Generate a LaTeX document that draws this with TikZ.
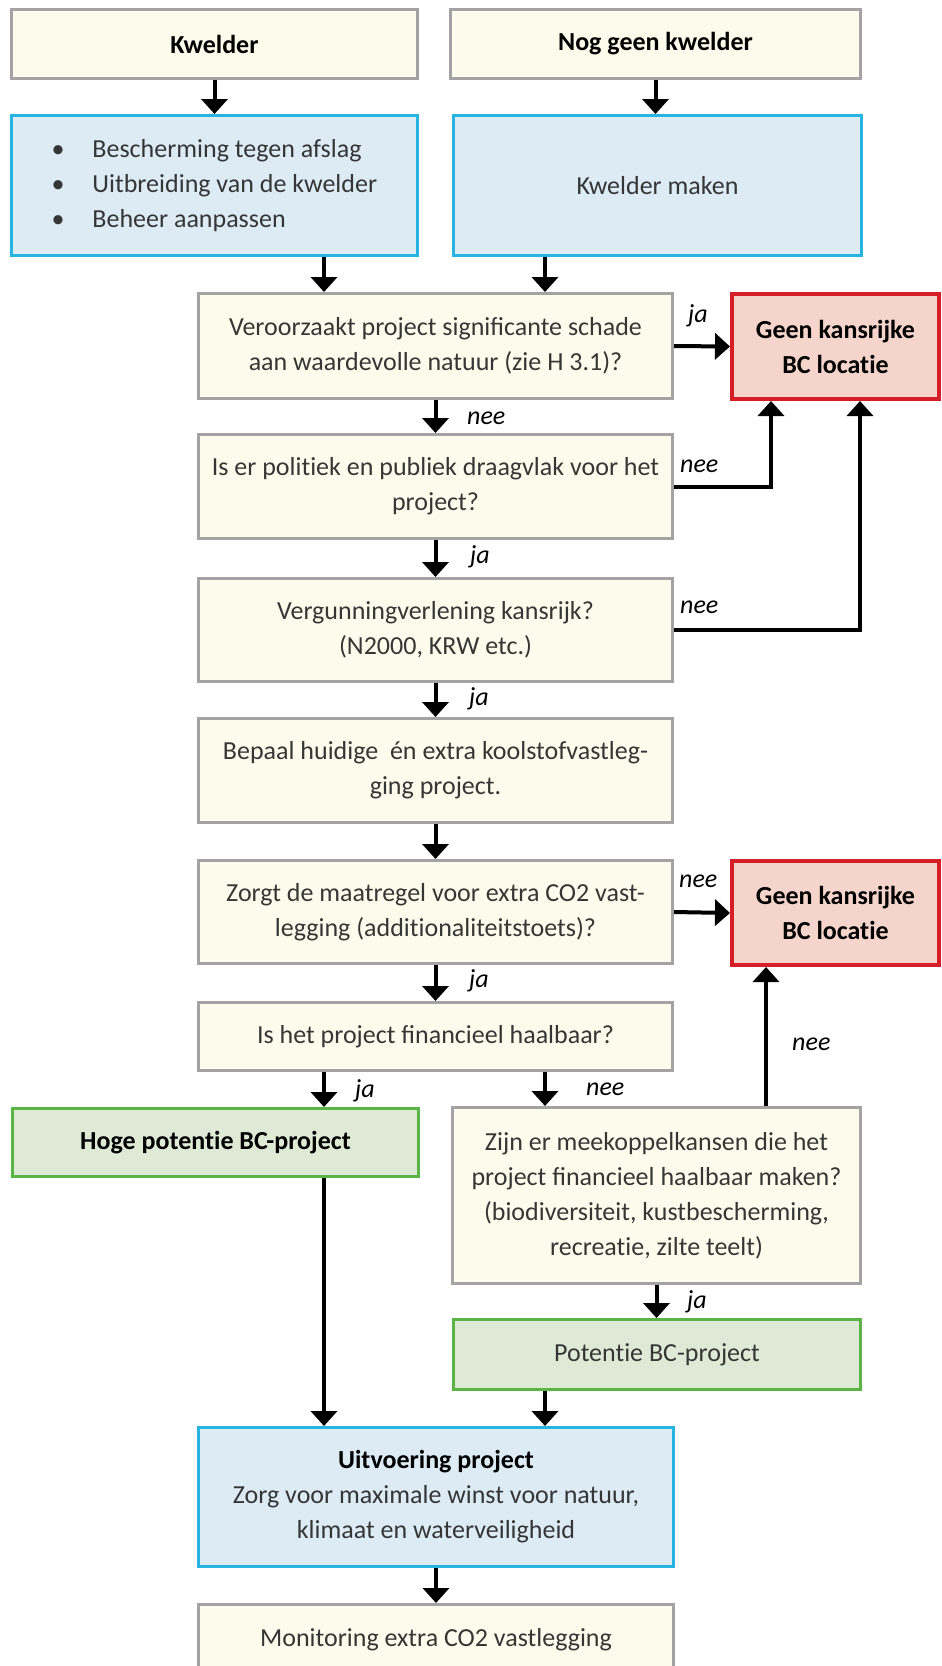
\documentclass[tikz,border=0pt]{standalone}
\usepackage{fontspec}
\setmainfont{Carlito}
\usetikzlibrary{arrows.meta,calc}
\definecolor{creamfill}{HTML}{FDFBEC}
\definecolor{creamline}{HTML}{A3A3A3}
\definecolor{bluefill}{HTML}{DDEBF5}
\definecolor{blueline}{HTML}{28B4E1}
\definecolor{redfill}{HTML}{F5D5CB}
\definecolor{redline}{HTML}{D61E28}
\definecolor{greenfill}{HTML}{DEEAD6}
\definecolor{greenline}{HTML}{5AB446}
\definecolor{txt}{HTML}{363636}
\newcommand\Ti{t\kern0pt{}i}
\begin{document}
\begin{tikzpicture}[x=1pt,y=-1pt,
  box/.style={rectangle, line width=3pt, inner sep=0pt, anchor=north west,
    font=\fontsize{26}{35}\selectfont, text=txt, align=center},
  cream/.style={box, fill=creamfill, draw=creamline},
  bluebox/.style={box, fill=bluefill, draw=blueline},
  redbox/.style={box, fill=redfill, draw=redline, line width=4pt, text=black, font=\fontsize{26}{35}\selectfont\bfseries},
  greenbox/.style={box, fill=greenfill, draw=greenline},
  arr/.style={line width=4pt, -{Triangle[length=15pt,width=26pt]}},
  lbl/.style={font=\fontsize{26}{30}\selectfont\itshape, inner sep=0pt, anchor=base west, text=black}]
\useasboundingbox (0,0) rectangle (942,1666);
\clip (0,0) rectangle (942,1666);
\fill[white] (0,0) rectangle (942,1666);

\coordinate (xL) at (324,0);
\coordinate (xR) at (545,0);
\coordinate (xP1) at (771,0);
\coordinate (xP2) at (860,0);
\coordinate (xZ) at (766,0);

\node[cream, minimum width=406pt, minimum height=69pt, text=black, font=\fontsize{26}{35}\selectfont\bfseries] (kw) at (10,8) {Kwelder};
\node[cream, minimum width=410pt, minimum height=69pt, text=black, font=\fontsize{26}{35}\selectfont\bfseries] (ngk) at (449,8) {Nog geen kwelder};
\node[bluebox, minimum width=406pt, minimum height=140pt, align=left, text width=380pt, inner xsep=13pt] (blueL) at (10,114)
  {\spaceskip=0pt\xspaceskip=0pt
   \hspace*{27pt}\makebox[41pt][l]{\textbullet}Bescherming tegen afslag\\
   \hspace*{27pt}\makebox[41pt][l]{\textbullet}Uitbreiding van de kwelder\\
   \hspace*{27pt}\makebox[41pt][l]{\textbullet}Beheer aanpassen};
\node[bluebox, minimum width=408pt, minimum height=140pt] (blueR) at (452,114) {Kwelder maken};

\node[cream, minimum width=474pt, minimum height=105pt] (ver) at (197,292) {Veroorzaakt project significante schade\\aan waardevolle natuur (zie H 3.1)?};
\node[redbox, minimum width=207pt, minimum height=105pt] (red1) at (730,292) {Geen kansrijke\\BC loca\Ti e};
\node[cream, minimum width=474pt, minimum height=104pt] (pol) at (197,433) {Is er poli\Ti ek en publiek draagvlak voor het\\project?};
\node[cream, minimum width=474pt, minimum height=103pt] (verg) at (197,577) {Vergunningverlening kansrijk?\\(N2000, KRW etc.)};
\node[cream, minimum width=474pt, minimum height=104pt] (bep) at (197,717) {Bepaal huidige~ én extra koolstofvastleg-\\ging project.};
\node[cream, minimum width=474pt, minimum height=103pt] (zorg) at (197,859) {Zorgt de maatregel voor extra CO2 vast-\\legging (addi\Ti onaliteitstoets)?};
\node[redbox, minimum width=207pt, minimum height=104pt] (red2) at (730,859) {Geen kansrijke\\BC loca\Ti e};
\node[cream, minimum width=474pt, minimum height=68pt] (ishet) at (197,1001) {Is het project financieel haalbaar?};
\node[greenbox, minimum width=406pt, minimum height=68pt, text=black, font=\fontsize{26}{35}\selectfont\bfseries] (hoge) at (11,1107) {Hoge poten\Ti e BC-project};
\node[cream, minimum width=408pt, minimum height=176pt] (zijn) at (451,1106) {Zijn er meekoppelkansen die het\\project financieel haalbaar maken?\\(biodiversiteit, kustbescherming,\\recrea\Ti e, zilte teelt)};
\node[greenbox, minimum width=407pt, minimum height=70pt] (pot) at (452,1318) {Poten\Ti e BC-project};
\node[bluebox, minimum width=475pt, minimum height=139pt] (uit) at (197,1426) {{\color{black}\bfseries Uitvoering project}\\Zorg voor maximale winst voor natuur,\\klimaat en waterveiligheid};
\node[cream, minimum width=475pt, minimum height=70pt] (mon) at (197,1603) {Monitoring extra CO2 vastlegging};

\draw[arr] (kw.south) -- (blueL.north);
\draw[arr] (ngk.south) -- (ngk.south |- blueR.north);
\draw[arr] (blueL.south -| xL) -- (ver.north -| xL);
\draw[arr] (blueR.south -| xR) -- (ver.north -| xR);
\draw[arr] (ver.east) -- (red1.west);
\draw[arr] (ver.south) -- (pol.north);
\draw[arr] (pol.east) -| (red1.south -| xP1);
\draw[arr] (pol.south) -- (verg.north);
\draw[arr] (verg.east) -| (red1.south -| xP2);
\draw[arr] (verg.south) -- (bep.north);
\draw[arr] (bep.south) -- (zorg.north);
\draw[arr] (zorg.east) -- (red2.west);
\draw[arr] (zorg.south) -- (ishet.north);
\draw[arr] (ishet.south -| xL) -- (hoge.north -| xL);
\draw[arr] (ishet.south -| xR) -- (zijn.north -| xR);
\draw[arr] (zijn.north -| xZ) -- (red2.south -| xZ);
\draw[arr] (zijn.south) -- (zijn.south |- pot.north);
\draw[arr] (hoge.south -| xL) -- (uit.north -| xL);
\draw[arr] (pot.south -| xR) -- (uit.north -| xR);
\draw[arr] (uit.south) -- (mon.north);

\node[lbl] (l1) at (688,322) {ja};
\node[lbl] (l2) at (467,424) {nee};
\node[lbl] (l3) at (680,472) {nee};
\node[lbl] (l4) at (470,563) {ja};
\node[lbl] (l5) at (680,613) {nee};
\node[lbl] (l6) at (469,705) {ja};
\node[lbl] (l7) at (679,887) {nee};
\node[lbl] (l8) at (469,987) {ja};
\node[lbl] (l9) at (355,1097) {ja};
\node[lbl] (l10) at (586,1095) {nee};
\node[lbl] (l11) at (792,1050) {nee};
\node[lbl] (l12) at (687,1308) {ja};
\end{tikzpicture}
\end{document}
